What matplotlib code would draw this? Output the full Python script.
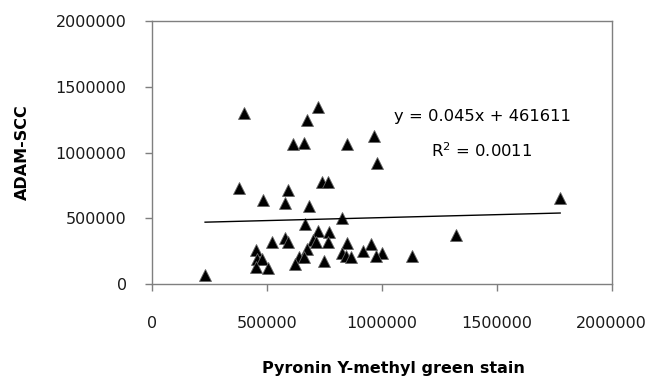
import numpy as np
import matplotlib.pyplot as plt

# Pyronin Y-methyl green stain vs ADAM-SCC
stain = [232000, 403000, 725000, 674000, 613000, 664000, 849000, 965000,
         980000, 381000, 594000, 739000, 768000, 485000, 581000, 685000,
         1776000, 829000, 666000, 722000, 772000, 523000, 580000, 591000,
         700000, 714000, 765000, 849000, 1322000, 453000, 953000, 917000,
         1000000, 975000, 1132000, 826000, 843000, 865000, 677000, 639000,
         662000, 623000, 749000, 456000, 478000, 453000, 504000]
adam = [70000, 1305000, 1345000, 1250000, 1064000, 1071000, 1064000, 1127000,
        920000, 729000, 717000, 780000, 780000, 640000, 615000, 597000,
        653000, 506000, 456000, 407000, 395000, 324000, 354000, 324000,
        337000, 324000, 324000, 316000, 375000, 261000, 304000, 255000,
        240000, 217000, 217000, 240000, 215000, 205000, 266000, 210000,
        205000, 154000, 179000, 190000, 190000, 129000, 122000]

slope = 0.045
intercept = 461611
r2 = 0.0011

fig = plt.figure(figsize=(6.64, 3.80), dpi=100)
ax = fig.add_axes([0.2285, 0.2518, 0.6927, 0.6929])

ax.plot(stain, adam, linestyle='none', marker='^', ms=8.5,
        markerfacecolor='black', markeredgecolor='#666666', markeredgewidth=0.6)

# trendline over the range of the data
xs = np.array([min(stain), max(stain)])
ax.plot(xs, slope * xs + intercept, color='black', lw=1)

ax.set_xlim(0, 2000000)
ax.set_ylim(0, 2000000)
ax.set_xticks([0, 500000, 1000000, 1500000, 2000000])
ax.set_yticks([0, 500000, 1000000, 1500000, 2000000])
ax.ticklabel_format(style='plain')

for s in ax.spines.values():
    s.set_color('#7f7f7f')
    s.set_linewidth(1)
ax.tick_params(direction='out', length=5, width=1, color='#7f7f7f',
               labelsize=11.5, labelcolor='#1a1a1a')
ax.tick_params(axis='x', pad=18)
ax.tick_params(axis='y', pad=13)

fig.text(393 / 664, 1 - 368 / 380, 'Pyronin Y-methyl green stain',
         fontsize=11.5, fontweight='bold', ha='center', va='center')
fig.text(22 / 664, 1 - 152 / 380, 'ADAM-SCC', fontsize=11.5,
         fontweight='bold', rotation=90, ha='center', va='center')

ax.text(482 / 664, 1 - 117 / 380, 'y = 0.045x + 461611',
        transform=fig.transFigure, fontsize=11.8, ha='center', va='center')
ax.text(482 / 664, 1 - 151 / 380, 'R$^2$ = %s' % r2,
        transform=fig.transFigure, fontsize=11.8, ha='center', va='center')

plt.savefig('out.png', dpi=100)
